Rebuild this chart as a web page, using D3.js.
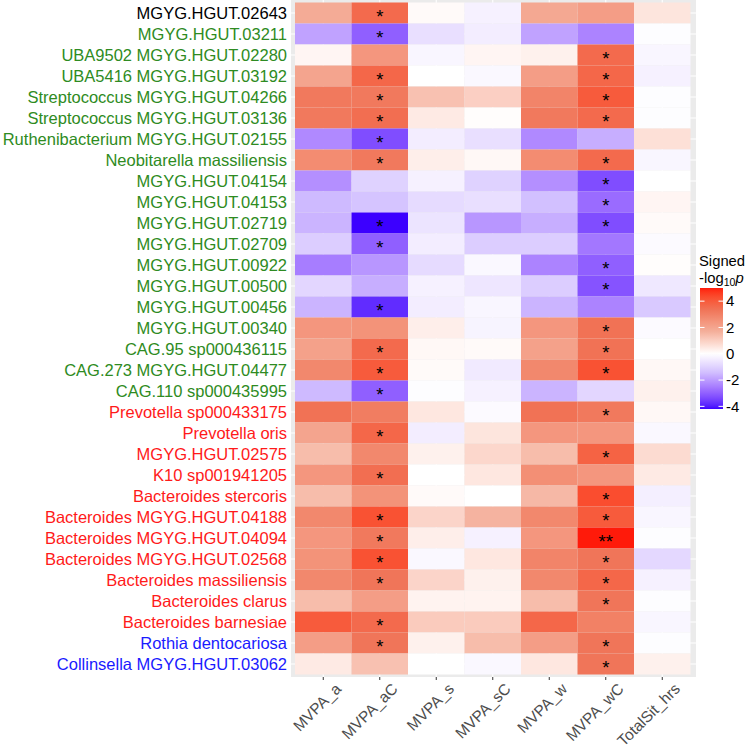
<!DOCTYPE html>
<html>
<head>
<meta charset="utf-8">
<script src="https://cdn.jsdelivr.net/npm/d3@7"></script>
<style>
  body { margin:0; background:#fff; }
  text { font-family: "Liberation Sans", Arial, sans-serif; }
</style>
</head>
<body>
<div class="canvas"></div>
<script>
const taxa = ["MGYG.HGUT.02643","MGYG.HGUT.03211","UBA9502 MGYG.HGUT.02280","UBA5416 MGYG.HGUT.03192",
  "Streptococcus MGYG.HGUT.04266","Streptococcus MGYG.HGUT.03136","Ruthenibacterium MGYG.HGUT.02155",
  "Neobitarella massiliensis","MGYG.HGUT.04154","MGYG.HGUT.04153","MGYG.HGUT.02719","MGYG.HGUT.02709",
  "MGYG.HGUT.00922","MGYG.HGUT.00500","MGYG.HGUT.00456","MGYG.HGUT.00340","CAG.95 sp000436115",
  "CAG.273 MGYG.HGUT.04477","CAG.110 sp000435995","Prevotella sp000433175","Prevotella oris",
  "MGYG.HGUT.02575","K10 sp001941205","Bacteroides stercoris","Bacteroides MGYG.HGUT.04188",
  "Bacteroides MGYG.HGUT.04094","Bacteroides MGYG.HGUT.02568","Bacteroides massiliensis",
  "Bacteroides clarus","Bacteroides barnesiae","Rothia dentocariosa","Collinsella MGYG.HGUT.03062"];
const taxaGroup = ["k","g","g","g","g","g","g","g","g","g","g","g","g","g","g","g","g","g","g",
  "r","r","r","r","r","r","r","r","r","r","r","b","b"];
const measures = ["MVPA_a","MVPA_aC","MVPA_s","MVPA_sC","MVPA_w","MVPA_wC","TotalSit_hrs"];

const MVPA_a  = [1.8,-1.9,0.2,2.0,3.2,3.2,-2.3,2.7,-2.2,-1.5,-1.6,-1.1,-2.5,-0.9,-1.6,2.4,2.1,2.8,-1.5,3.4,2.0,1.4,2.4,1.4,2.8,2.4,2.5,2.8,1.4,4.0,2.2,0.45];
const MVPA_aC = [3.6,-3.0,2.4,3.7,3.2,3.5,-3.3,3.2,-1.0,-1.3,-4.2,-3.0,-2.1,-1.7,-3.8,2.5,3.6,4.0,-3.0,3.1,3.7,2.8,3.5,2.5,4.2,3.2,4.2,3.3,2.2,3.6,3.3,1.3];
const MVPA_s  = [0.1,-0.7,-0.2,0,1.3,0.45,-0.4,0.35,-0.3,-0.8,-0.6,-0.4,-0.8,-0.3,-0.4,0.35,0.15,0.1,-0.05,0.5,-0.4,0.3,0,0.1,0.9,0.35,-0.15,0.9,0.25,1.1,0.3,0];
const MVPA_sC = [-0.3,-0.4,0.2,-0.15,1.0,0.05,-0.7,0.15,-1.0,-0.7,-2.1,-1.1,-0.15,-0.55,-0.2,-0.25,0.1,-0.45,-0.3,-0.1,0.55,0.85,0.5,0,1.6,-0.3,0.5,0.3,0.25,1.1,1.4,-0.15];
const MVPA_w  = [1.9,-1.9,0.3,2.2,2.9,3.2,-2.3,2.7,-2.2,-1.4,-1.7,-1.1,-2.4,-1.1,-1.6,2.4,2.1,2.8,-1.6,3.4,2.4,1.4,2.6,1.5,2.8,2.4,2.9,2.8,1.4,3.7,2.2,0.5];
const MVPA_wC = [2.2,-2.4,3.6,3.7,4.0,3.6,-1.7,3.6,-3.3,-2.8,-3.3,-2.6,-3.0,-3.2,-2.4,3.4,3.4,4.2,-0.9,3.2,2.4,3.8,2.4,4.3,4.0,5.0,3.3,3.7,3.3,3.0,3.3,3.3];
const TotalSit_hrs = [0.55,-0.05,-0.2,-0.3,-0.05,-0.05,0.65,-0.2,0,0.2,0.1,-0.1,0.05,-0.5,-1.2,-0.1,0,0.15,0.3,0.15,-0.15,0.75,0.45,-0.35,-0.2,-0.05,-0.85,-0.3,-0.05,-0.2,-0.05,0.3];
const series = [MVPA_a, MVPA_aC, MVPA_s, MVPA_sC, MVPA_w, MVPA_wC, TotalSit_hrs];

// significance marks (row indexes)
const starsAC = [0,1,3,4,5,6,7,10,11,14,16,17,18,20,22,24,25,26,27,29,30];
const starsWC = [2,3,4,5,7,8,9,10,12,13,15,16,17,19,21,23,24,25,26,27,28,30,31];
const doubleWC = [25];

const legendTicks = [4,2,0,-2,-4];
const groupColor = { k:"#000000", g:"#2E8B22", r:"#FF1A1A", b:"#1A1AFF" };

const W = 750, H = 748;
let svg = d3.select(".canvas").append("svg").attr("width",W).attr("height",H);

const minV = d3.min(series.flat()), maxV = d3.max(series.flat());
const redRamp = d3.piecewise(d3.interpolateLab, ["#ffffff","#F4B09C","#F07458","#FF1A0A"]);
const blueRamp = d3.piecewise(d3.interpolateLab, ["#ffffff","#D2C0FF","#9A6BFF","#3C00FF"]);
const fill = v => v >= 0 ? redRamp(v / maxV) : blueRamp(v / minV);

const x = d3.scaleBand().domain(measures).range([295, 690.5]);
const y = d3.scaleBand().domain(taxa).range([2.5, 674.5]);

// panel
svg.append("rect").attr("x",291).attr("y",0).attr("width",405).attr("height",677).attr("fill","#EBEBEB");
svg.append("g").selectAll("line").data(taxa).join("line")
  .attr("x1",291).attr("x2",696)
  .attr("y1",d => y(d) + y.bandwidth()/2).attr("y2",d => y(d) + y.bandwidth()/2)
  .attr("stroke","#fff").attr("stroke-width",1.1);
svg.append("g").selectAll("line").data(measures).join("line")
  .attr("y1",0).attr("y2",677)
  .attr("x1",d => x(d) + x.bandwidth()/2).attr("x2",d => x(d) + x.bandwidth()/2)
  .attr("stroke","#fff").attr("stroke-width",1.1);

let cells = [];
measures.forEach((m,j) => taxa.forEach((t,i) => cells.push({m, t, i, j, v: series[j][i]})));

svg.append("g").selectAll("rect").data(cells).join("rect")
  .attr("x",d => x(d.m)).attr("y",d => y(d.t))
  .attr("width",x.bandwidth()).attr("height",y.bandwidth())
  .attr("fill",d => fill(d.v));

let marks = [];
starsAC.forEach(i => marks.push({m:"MVPA_aC", t:taxa[i], s:"*"}));
starsWC.forEach(i => marks.push({m:"MVPA_wC", t:taxa[i], s: doubleWC.includes(i) ? "**" : "*"}));

svg.append("g").selectAll("text").data(marks).join("text")
  .attr("x",d => x(d.m) + x.bandwidth()/2)
  .attr("y",d => y(d.t) + y.bandwidth()/2 + 10)
  .attr("text-anchor","middle").attr("font-size",18.5).attr("fill","#000")
  .text(d => d.s);

// y axis labels
svg.append("g").selectAll("text").data(taxa).join("text")
  .attr("x",287).attr("y",d => y(d) + y.bandwidth()/2)
  .attr("dy","0.35em").attr("text-anchor","end").attr("font-size",16.5)
  .attr("fill",(d,i) => groupColor[taxaGroup[i]])
  .text(d => d);

// x axis
svg.append("g").selectAll("line").data(measures).join("line")
  .attr("x1",d => x(d) + x.bandwidth()/2).attr("x2",d => x(d) + x.bandwidth()/2)
  .attr("y1",677).attr("y2",680).attr("stroke","#333").attr("stroke-width",1);
svg.append("g").selectAll("text").data(measures).join("text")
  .attr("transform",d => `translate(${x(d) + x.bandwidth()/2 + 15},686) rotate(-45)`)
  .attr("text-anchor","end").attr("dy","0.35em").attr("font-size",15.5).attr("fill","#4D4D4D")
  .text(d => d);

// legend
const lg = svg.append("g");
lg.append("text").attr("x",699).attr("y",266).attr("font-size",14.8).text("Signed");
let t2 = lg.append("text").attr("x",699).attr("y",283).attr("font-size",14.8);
t2.append("tspan").text("-log");
t2.append("tspan").attr("font-size",10.5).attr("dy",3).text("10");
t2.append("tspan").attr("font-style","italic").attr("dy",-3).text("p");

const ly = d3.scaleLinear().domain([minV, maxV]).range([409, 288]);
const grad = svg.append("defs").append("linearGradient").attr("id","lgrad")
  .attr("x1",0).attr("x2",0).attr("y1",1).attr("y2",0);
d3.range(0, 1.0001, 0.02).forEach(f => {
  grad.append("stop").attr("offset",f).attr("stop-color",fill(minV + f*(maxV - minV)));
});
lg.append("rect").attr("x",700).attr("y",288).attr("width",23).attr("height",121).attr("fill","url(#lgrad)");
lg.selectAll("line.tk").data(legendTicks).join("line").attr("class","tk")
  .attr("x1",700).attr("x2",704.5).attr("y1",d => ly(d)).attr("y2",d => ly(d))
  .attr("stroke","#fff").attr("stroke-width",1);
lg.selectAll("line.tk2").data(legendTicks).join("line").attr("class","tk2")
  .attr("x1",718.5).attr("x2",723).attr("y1",d => ly(d)).attr("y2",d => ly(d))
  .attr("stroke","#fff").attr("stroke-width",1);
lg.selectAll("text.tl").data(legendTicks).join("text").attr("class","tl")
  .attr("x",726).attr("y",d => ly(d)).attr("dy","0.35em").attr("font-size",15)
  .text(d => d);
</script>
</body>
</html>
